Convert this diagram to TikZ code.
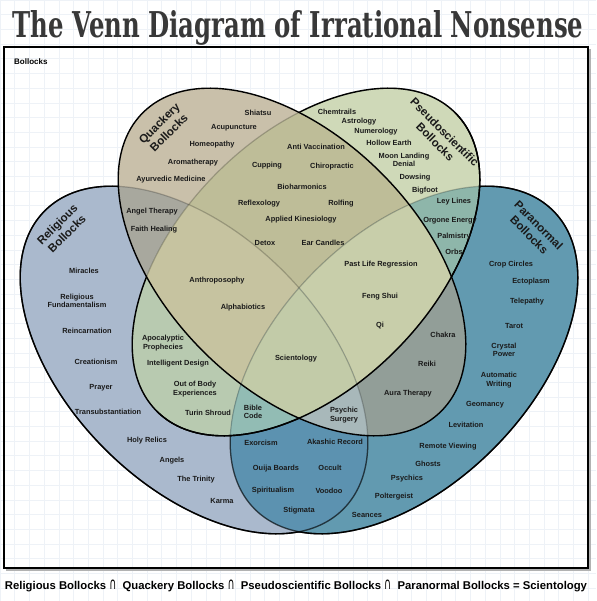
\documentclass[tikz,border=0pt]{standalone}
\usepackage{fontspec}
\setmainfont{Liberation Sans}
\newfontfamily\titlefont{DejaVu Serif}
\newfontfamily\symfont{DejaVu Sans}

\definecolor{gridcol}{RGB}{238,242,247}
\definecolor{inkcol}{RGB}{26,26,26}
% one colour per region of the diagram
\definecolor{rcol}{RGB}{170,185,205}
\definecolor{qcol}{RGB}{201,192,170}
\definecolor{pcol}{RGB}{207,217,184}
\definecolor{ncol}{RGB}{98,154,176}
\definecolor{rqcol}{RGB}{168,168,158}
\definecolor{rpcol}{RGB}{184,202,176}
\definecolor{rncol}{RGB}{92,146,176}
\definecolor{qpcol}{RGB}{190,189,152}
\definecolor{qncol}{RGB}{146,158,152}
\definecolor{pncol}{RGB}{142,182,170}
\definecolor{rqpcol}{RGB}{198,195,160}
\definecolor{qpncol}{RGB}{200,206,170}
\definecolor{rpncol}{RGB}{146,188,180}
\definecolor{rqncol}{RGB}{168,184,186}
\definecolor{allcol}{RGB}{194,203,168}

% the four ellipses
\newcommand\ellR{(194,360) ellipse [x radius=211pt, y radius=126pt]}
\newcommand\ellN{(404,360) ellipse [x radius=211pt, y radius=126pt]}
\newcommand\ellP{(306,262) ellipse [x radius=211pt, y radius=126pt]}
\newcommand\ellQ{(292,262) ellipse [x radius=211pt, y radius=126pt]}
\newcommand\farR{(194,360) circle [radius=1200pt]}
\newcommand\farN{(404,360) circle [radius=1200pt]}
\newcommand\farP{(306,262) circle [radius=1200pt]}
\newcommand\farQ{(292,262) circle [radius=1200pt]}
\newcommand\capsym{{\symfont\mdseries\fontsize{10}{10}\selectfont\scalebox{0.85}[1.45]{∩}}}

\tikzset{
  rset/.style={rotate around={-45:(194,360)}},
  nset/.style={rotate around={45:(404,360)}},
  pset/.style={rotate around={45:(306,262)}},
  qset/.style={rotate around={-45:(292,262)}},
  outline/.style={draw=black, line width=1.4pt},
  faintline/.style={draw=black, draw opacity=0.22, line width=1.2pt},
  midline/.style={draw=black, draw opacity=0.55, line width=1.3pt},
  gridline/.style={draw=gridcol, line width=0.6pt},
  item/.style={font=\fontsize{7.4}{8.6}\selectfont\bfseries, text=inkcol, align=center, inner sep=0pt},
  setname/.style={font=\fontsize{11.5}{13.5}\selectfont\bfseries, text=inkcol, align=center, inner sep=0pt},
}

\begin{document}
\begin{tikzpicture}[x=1pt, y=-1pt]
	
	\useasboundingbox (0,0) rectangle (596,601);
	\fill[white] (0,0) rectangle (596,601);
	
	% background grid
	\foreach \gx in {0,14.7,...,596} \draw[gridline] (\gx,0) -- (\gx,601);
	\foreach \gy in {0,14.7,...,601} \draw[gridline] (0,\gy) -- (596,\gy);
	
	\node[font=\titlefont\bfseries, text=black!78, anchor=base] (title) at (298,38)
		{\resizebox{571pt}{27pt}{The Venn Diagram of Irrational Nonsense}};
	
	\draw[black!30, line width=1.2pt] (6,570) -- (590,570) -- (590,49);
	\draw[line width=1.5pt] (4,47) rectangle (588,568);
	\node[font=\fontsize{8}{9}\selectfont\bfseries, anchor=west, inner sep=0pt] (bollocks) at (14,62) {Bollocks};
	
	% single sets
	\fill[rcol, rset] \ellR;
	\fill[ncol, nset] \ellN;
	\fill[pcol, pset] \ellP;
	\fill[qcol, qset] \ellQ;
	
	% pairs
	\begin{scope} \clip[rset] \ellR; \fill[rqcol, qset] \ellQ; \end{scope}
	\begin{scope} \clip[rset] \ellR; \fill[rpcol, pset] \ellP; \end{scope}
	\begin{scope} \clip[rset] \ellR; \fill[rncol, nset] \ellN; \end{scope}
	\begin{scope} \clip[qset] \ellQ; \fill[qpcol, pset] \ellP; \end{scope}
	\begin{scope} \clip[qset] \ellQ; \fill[qncol, nset] \ellN; \end{scope}
	\begin{scope} \clip[pset] \ellP; \fill[pncol, nset] \ellN; \end{scope}
	
	% triples
	\begin{scope} \clip[rset] \ellR; \clip[qset] \ellQ; \fill[rqpcol, pset] \ellP; \end{scope}
	\begin{scope} \clip[qset] \ellQ; \clip[pset] \ellP; \fill[qpncol, nset] \ellN; \end{scope}
	\begin{scope} \clip[rset] \ellR; \clip[pset] \ellP; \fill[rpncol, nset] \ellN; \end{scope}
	\begin{scope} \clip[rset] \ellR; \clip[qset] \ellQ; \fill[rqncol, nset] \ellN; \end{scope}
	
	% all four
	\begin{scope} \clip[rset] \ellR; \clip[qset] \ellQ; \clip[pset] \ellP; \fill[allcol, nset] \ellN; \end{scope}
	
	% outlines: faint where they run under another set
	\draw[faintline, rset] \ellR;
	\draw[faintline, nset] \ellN;
	\draw[faintline, pset] \ellP;
	\begin{scope}[even odd rule]
		\clip[qset] \ellQ \farQ;
		\clip[pset] \ellP \farP;
		\draw[midline, rset] \ellR;
		\draw[midline, nset] \ellN;
		\begin{scope}
			\clip[nset] \ellN \farN;
			\draw[outline, rset] \ellR;
		\end{scope}
		\begin{scope}
			\clip[rset] \ellR \farR;
			\draw[outline, nset] \ellN;
		\end{scope}
	\end{scope}
	\begin{scope}[even odd rule]
		\clip[qset] \ellQ \farQ;
		\draw[outline, pset] \ellP;
	\end{scope}
	\begin{scope}
		\clip (-194,762) -- (806,-238) -- (806,762) -- cycle;
		\draw[outline, pset] \ellP;
	\end{scope}
	\draw[outline, qset] \ellQ;
	
	\node[setname, rotate=45] (relname) at (62,229) {Religious\\Bollocks};
	\node[setname, rotate=45] (quackname) at (164,128) {Quackery\\Bollocks};
	\node[setname, rotate=-45] (pseudoname) at (440,137) {Pseudoscientific\\Bollocks};
	\node[setname, rotate=-45] (paraname) at (534,230) {Paranormal\\Bollocks};
	
	% quackery
	\node[item] (shiatsu) at (258,113) {Shiatsu};
	\node[item] (acupuncture) at (234,128) {Acupuncture};
	\node[item] (homeopathy) at (212,145) {Homeopathy};
	\node[item] (aromatherapy) at (193,163) {Aromatherapy};
	\node[item] (ayurvedic) at (171,180) {Ayurvedic Medicine};
	
	% pseudoscientific
	\node[item] (chemtrails) at (337,112) {Chemtrails};
	\node[item] (astrology) at (359,122) {Astrology};
	\node[item] (numerology) at (376,132) {Numerology};
	\node[item] (hollowearth) at (389,143) {Hollow Earth};
	\node[item] (moonlanding) at (404,160) {Moon Landing\\Denial};
	\node[item] (dowsing) at (415,178) {Dowsing};
	\node[item] (bigfoot) at (425,191) {Bigfoot};
	
	% quackery and pseudoscientific
	\node[item] (antivax) at (316,147) {Anti Vaccination};
	\node[item] (cupping) at (267,166) {Cupping};
	\node[item] (chiropractic) at (332,167) {Chiropractic};
	\node[item] (bioharmonics) at (302,187) {Bioharmonics};
	\node[item] (reflexology) at (259,204) {Reflexology};
	\node[item] (rolfing) at (341,204) {Rolfing};
	\node[item] (kinesiology) at (301,220) {Applied Kinesiology};
	\node[item] (detox) at (265,243) {Detox};
	\node[item] (earcandles) at (323,243) {Ear Candles};
	
	% religious and quackery
	\node[item] (angeltherapy) at (152,212) {Angel Therapy};
	\node[item] (faithhealing) at (154,230) {Faith Healing};
	
	% religious
	\node[item] (miracles) at (84,271) {Miracles};
	\node[item] (fundamentalism) at (77,301) {Religious\\Fundamentalism};
	\node[item] (reincarnation) at (87,331) {Reincarnation};
	\node[item] (creationism) at (96,362) {Creationism};
	\node[item] (prayer) at (101,388) {Prayer};
	\node[item] (transubst) at (108,412) {Transubstantiation};
	\node[item] (holyrelics) at (147,441) {Holy Relics};
	\node[item] (angels) at (172,461) {Angels};
	\node[item] (trinity) at (196,480) {The Trinity};
	\node[item] (karma) at (222,501) {Karma};
	
	% religious, quackery and pseudoscientific
	\node[item] (anthroposophy) at (217,281) {Anthroposophy};
	\node[item] (alphabiotics) at (243,308) {Alphabiotics};
	
	% pseudoscientific and paranormal
	\node[item] (leylines) at (454,202) {Ley Lines};
	\node[item] (orgone) at (450,221) {Orgone Energy};
	\node[item] (palmistry) at (454,237) {Palmistry};
	\node[item] (orbs) at (454,252) {Orbs};
	
	% quackery, pseudoscientific and paranormal
	\node[item] (pastlife) at (381,265) {Past Life Regression};
	\node[item] (fengshui) at (380,297) {Feng Shui};
	\node[item] (qi) at (380,326) {Qi};
	
	% paranormal
	\node[item] (cropcircles) at (511,265) {Crop Circles};
	\node[item] (ectoplasm) at (531,282) {Ectoplasm};
	\node[item] (telepathy) at (527,302) {Telepathy};
	\node[item] (tarot) at (514,326) {Tarot};
	\node[item] (crystal) at (504,350) {Crystal\\Power};
	\node[item] (autowriting) at (499,380) {Automatic\\Writing};
	\node[item] (geomancy) at (485,405) {Geomancy};
	\node[item] (levitation) at (466,425) {Levitation};
	\node[item] (remoteview) at (448,447) {Remote Viewing};
	\node[item] (ghosts) at (428,464) {Ghosts};
	\node[item] (psychics) at (407,479) {Psychics};
	\node[item] (poltergeist) at (394,497) {Poltergeist};
	\node[item] (seances) at (367,515) {Seances};
	
	% quackery and paranormal
	\node[item] (chakra) at (443,335) {Chakra};
	\node[item] (reiki) at (427,364) {Reiki};
	\node[item] (auratherapy) at (408,394) {Aura Therapy};
	
	% religious and pseudoscientific
	\node[item] (apocalyptic) at (163,343) {Apocalyptic\\Prophecies};
	\node[item] (intdesign) at (178,364) {Intelligent Design};
	\node[item] (outofbody) at (195,389) {Out of Body\\Experiences};
	\node[item] (turinshroud) at (208,413) {Turin Shroud};
	
	% all four
	\node[item] (scientology) at (296,359) {Scientology};
	
	\node[item] (biblecode) at (253,412) {Bible\\Code};
	\node[item] (psychicsurgery) at (344,415) {Psychic\\Surgery};
	
	% religious and paranormal
	\node[item] (exorcism) at (261,443) {Exorcism};
	\node[item] (akashic) at (335,442) {Akashic Record};
	\node[item] (ouija) at (276,469) {Ouija Boards};
	\node[item] (occult) at (330,468) {Occult};
	\node[item] (spiritualism) at (273,491) {Spiritualism};
	\node[item] (voodoo) at (329,491) {Voodoo};
	\node[item] (stigmata) at (299,511) {Stigmata};
	
	\node[font=\bfseries, inner sep=0pt] (caption) at (296,586)
		{\resizebox{582pt}{!}{Religious Bollocks \capsym\ \ Quackery Bollocks \capsym\ \ Pseudoscientific Bollocks \capsym\ \ Paranormal Bollocks = Scientology}};
	
\end{tikzpicture}
\end{document}
